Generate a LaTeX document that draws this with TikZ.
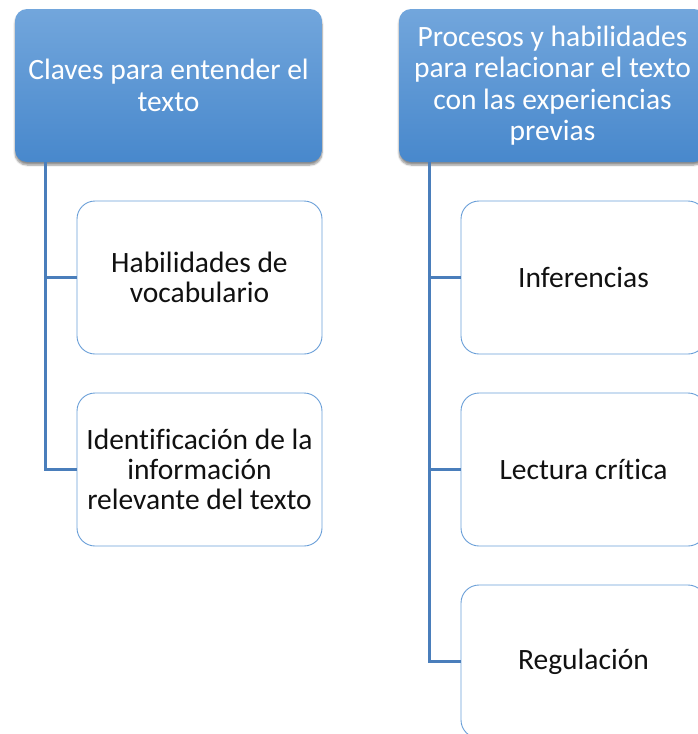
\documentclass[tikz,border=0pt]{standalone}
\usepackage{fontspec}
\setmainfont{Carlito}[Ligatures=NoCommon]
\usepackage{xcolor}
\definecolor{headtop}{HTML}{72A6DC}
\definecolor{headbot}{HTML}{4888CC}
\definecolor{boxline}{HTML}{6A9FD8}
\definecolor{linkblue}{HTML}{4A7EBB}
\definecolor{textdark}{HTML}{111111}
\usepackage{tikz}
\usetikzlibrary{positioning,shadows.blur}

\begin{document}
\begin{tikzpicture}[x=1pt, y=-1pt,
    headbox/.style={rectangle, rounded corners=12pt, minimum width=307pt, minimum height=153pt,
      top color=headtop, bottom color=headbot, draw=none, text=white, align=center,
      font=\fontsize{29.5}{31.5}\selectfont,
      blur shadow={shadow xshift=0pt, shadow yshift=-3pt, shadow blur steps=6, shadow opacity=45}},
    itembox/.style={rectangle, rounded corners=18pt, minimum width=245pt, minimum height=153pt,
      draw=boxline, line width=0.9pt, fill=white, text=textdark, align=center,
      font=\fontsize{29.5}{30}\selectfont},
    link/.style={draw=linkblue, line width=2.8pt}]
    \useasboundingbox (0,0) rectangle (698,734);
    \clip (0,0) rectangle (698,734);
    % headers
    \node[headbox] (claves) at (168.5,85.5) {Claves para entender el\\texto};
    \node[headbox] (procesos) at (552.5,85.5) {Procesos y habilidades\\para relacionar el texto\\con las experiencias\\previas};
    % left column
    \node[itembox] (vocab) at (199.5,277.5) {Habilidades de\\vocabulario};
    \node[itembox] (ident) at (199.5,469.5) {Identificación de la\\información\\relevante del texto};
    % right column
    \node[itembox] (infer) at (583.5,277.5) {Inferencias};
    \node[itembox] (lectura) at (583.5,469.5) {Lectura crítica};
    \node[itembox] (regul) at (583.5,661.5) {Regulación};
    % connectors
    \draw[link] ([xshift=31pt]claves.south west) |- (vocab.west);
    \draw[link] ([xshift=31pt]claves.south west) |- (ident.west);
    \draw[link] ([xshift=31pt]procesos.south west) |- (infer.west);
    \draw[link] ([xshift=31pt]procesos.south west) |- (lectura.west);
    \draw[link] ([xshift=31pt]procesos.south west) |- (regul.west);
  \end{tikzpicture}
\end{document}
